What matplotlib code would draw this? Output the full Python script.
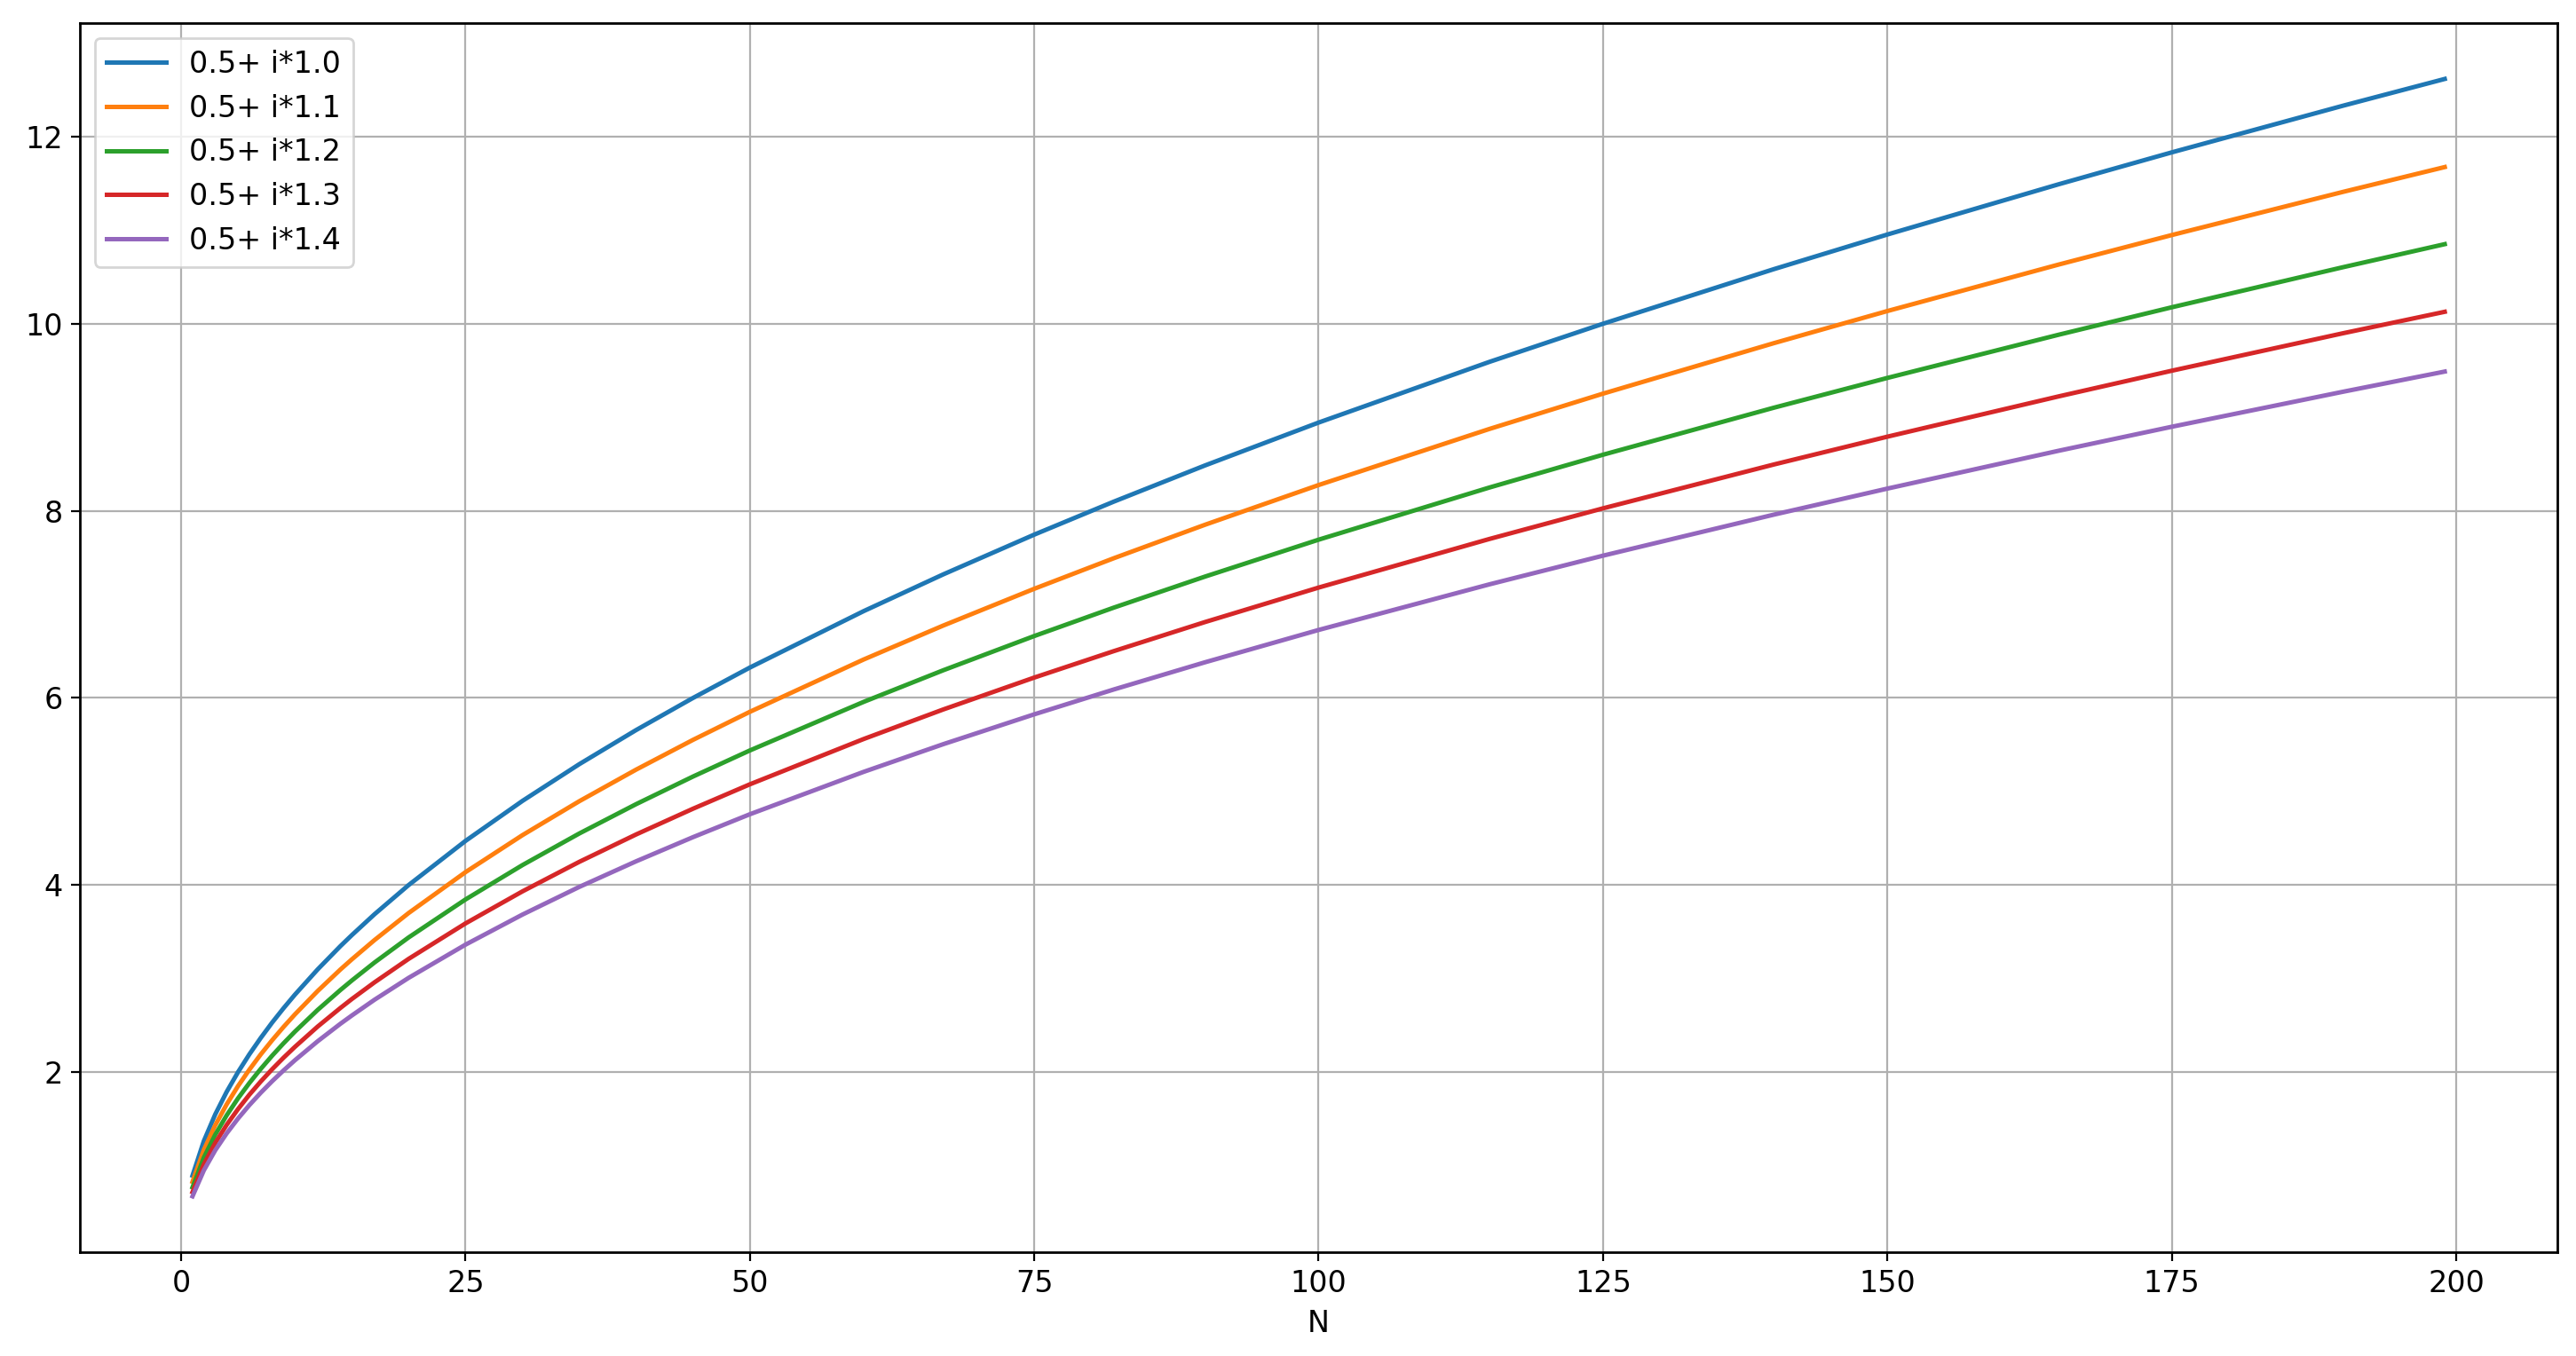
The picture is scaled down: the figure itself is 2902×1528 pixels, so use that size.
import matplotlib.pyplot as plt

n_vals = [1, 2, 3, 4, 5, 6, 7, 8, 9, 10, 12, 14, 15, 17, 20, 25, 30, 35, 40,
          45, 50, 60, 67, 75, 82, 90, 100, 115, 125, 140, 150, 165, 175, 190, 199]

labels = ['0.5+ i*1.0', '0.5+ i*1.1', '0.5+ i*1.2', '0.5+ i*1.3', '0.5+ i*1.4']

s_10 = [0.894, 1.265, 1.549, 1.789, 2.000, 2.191, 2.366, 2.530, 2.683, 2.828,
        3.098, 3.347, 3.464, 3.688, 4.000, 4.472, 4.899, 5.292, 5.657, 6.000,
        6.325, 6.928, 7.321, 7.746, 8.099, 8.485, 8.944, 9.592, 10.000, 10.583,
        10.954, 11.489, 11.832, 12.329, 12.617]
s_11 = [0.828, 1.170, 1.433, 1.655, 1.851, 2.027, 2.190, 2.341, 2.483, 2.617,
        2.867, 3.097, 3.205, 3.412, 3.701, 4.138, 4.533, 4.896, 5.234, 5.552,
        5.852, 6.411, 6.774, 7.167, 7.494, 7.851, 8.276, 8.875, 9.253, 9.792,
        10.136, 10.631, 10.948, 11.408, 11.675]
s_12 = [0.769, 1.088, 1.332, 1.538, 1.720, 1.884, 2.035, 2.176, 2.308, 2.433,
        2.665, 2.878, 2.979, 3.172, 3.440, 3.846, 4.213, 4.551, 4.865, 5.160,
        5.439, 5.958, 6.296, 6.662, 6.966, 7.297, 7.692, 8.249, 8.600, 9.102,
        9.421, 9.881, 10.176, 10.603, 10.851]
s_13 = [0.718, 1.015, 1.244, 1.436, 1.605, 1.759, 1.900, 2.031, 2.154, 2.270,
        2.487, 2.686, 2.781, 2.960, 3.211, 3.590, 3.932, 4.248, 4.541, 4.816,
        5.077, 5.561, 5.877, 6.218, 6.501, 6.811, 7.180, 7.699, 8.027, 8.495,
        8.793, 9.222, 9.498, 9.897, 10.128]
s_14 = [0.673, 0.951, 1.165, 1.345, 1.504, 1.648, 1.780, 1.903, 2.018, 2.127,
        2.330, 2.517, 2.605, 2.774, 3.008, 3.363, 3.684, 3.980, 4.254, 4.512,
        4.757, 5.210, 5.506, 5.825, 6.091, 6.381, 6.727, 7.214, 7.521, 7.959,
        8.238, 8.641, 8.899, 9.272, 9.489]

series = [s_10, s_11, s_12, s_13, s_14]

plt.rcParams['font.size'] = 12
plt.rcParams['axes.linewidth'] = 1.0

fig, ax = plt.subplots(figsize=(14.51, 7.64), dpi=200)
fig.subplots_adjust(left=90/2902, right=2881/2902, top=1-26/1528, bottom=1-1411/1528)

for vals, lab in zip(series, labels):
    ax.plot(n_vals, vals, label=lab, linewidth=1.8)

ax.set_xlabel('N')
ax.grid(True)
ax.legend(loc='upper left')

fig.savefig('out.png')
